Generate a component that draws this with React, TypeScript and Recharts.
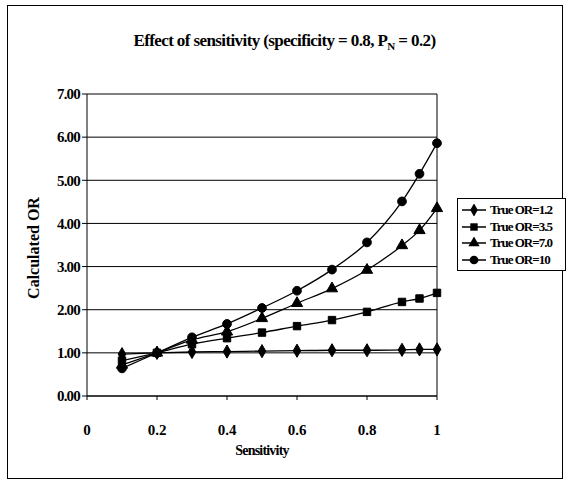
import {
  LineChart,
  Line,
  XAxis,
  YAxis,
  CartesianGrid,
  ReferenceLine,
  Symbols,
} from 'recharts';

const sensitivity = [0.1, 0.2, 0.3, 0.4, 0.5, 0.6, 0.7, 0.8, 0.9, 0.95, 1.0];
const or12 = [0.97, 1.0, 1.02, 1.03, 1.04, 1.05, 1.06, 1.06, 1.07, 1.08, 1.08];
const or35 = [0.82, 1.0, 1.2, 1.34, 1.47, 1.62, 1.76, 1.95, 2.18, 2.26, 2.39];
const or70 = [0.72, 1.0, 1.3, 1.49, 1.8, 2.15, 2.49, 2.92, 3.49, 3.84, 4.35];
const or10 = [0.64, 1.0, 1.36, 1.67, 2.04, 2.44, 2.93, 3.56, 4.51, 5.15, 5.86];
const xTicks = [0, 0.2, 0.4, 0.6, 0.8, 1];
const yTicks = [0, 1, 2, 3, 4, 5, 6, 7];

const data = sensitivity.map((s, i) => ({
  s,
  or12: or12[i],
  or35: or35[i],
  or70: or70[i],
  or10: or10[i],
}));

const series = [
  { key: 'or12', name: 'True OR=1.2', shape: 'diamond', size: 50 },
  { key: 'or35', name: 'True OR=3.5', shape: 'square', size: 55 },
  { key: 'or70', name: 'True OR=7.0', shape: 'triangle', size: 55 },
  { key: 'or10', name: 'True OR=10', shape: 'circle', size: 60 },
];

const font = '"Liberation Serif", "Times New Roman", serif';

const makeDot = (shape: string, size: number) => (props: any) => {
  const { cx, cy, index } = props;
  return (
    <Symbols key={`${shape}-${index}`} cx={cx} cy={cy} type={shape as any} size={size} fill="#000" stroke="#000" />
  );
};

export default function App() {
  return (
    <div style={{ position: 'absolute', left: 0, top: 0, width: 569, height: 483, background: '#fff', fontFamily: font }}>
      <div style={{ position: 'absolute', left: 7, top: 5, width: 554, height: 472, border: '1.5px solid #000' }} />
      <div style={{ position: 'absolute', left: 0, top: 31, width: 569, textAlign: 'center', fontWeight: 'bold', fontSize: 17, letterSpacing: -0.6 }}>
        Effect of sensitivity (specificity = 0.8, P<sub style={{ fontSize: 11 }}>N</sub> = 0.2)
      </div>
      <div
        style={{
          position: 'absolute',
          left: 34,
          top: 248,
          transform: 'translate(-50%, -50%) rotate(-90deg)',
          fontWeight: 'bold',
          fontSize: 16,
          whiteSpace: 'nowrap',
        }}
      >
        Calculated OR
      </div>
      <div style={{ position: 'absolute', left: 212, top: 443, width: 100, textAlign: 'center', fontWeight: 'bold', fontSize: 14, letterSpacing: -0.8 }}>
        Sensitivity
      </div>
      <LineChart width={569} height={483} data={data} margin={{ top: 94, right: 132, bottom: 57, left: 37 }}>
        <CartesianGrid horizontal vertical={false} stroke="#000" strokeWidth={1} />
        <XAxis
          dataKey="s"
          type="number"
          domain={[0, 1]}
          ticks={xTicks}
          tickFormatter={(v: number) => String(v)}
          height={30}
          stroke="#000"
          tickSize={4}
          tick={{ fill: '#000', fontSize: 15, fontWeight: 'bold', fontFamily: font, dy: 22 }}
        />
        <YAxis
          type="number"
          domain={[0, 7]}
          ticks={yTicks}
          tickFormatter={(v: number) => v.toFixed(2)}
          width={50}
          stroke="#000"
          tickSize={5}
          tick={{ fill: '#000', fontSize: 15, fontWeight: 'bold', fontFamily: font, letterSpacing: -0.8 }}
        />
        <ReferenceLine x={1} stroke="#000" />
        {series.map((sr) => (
          <Line
            key={sr.key}
            dataKey={sr.key}
            name={sr.name}
            type="monotone"
            stroke="#000"
            strokeWidth={1.3}
            dot={makeDot(sr.shape, sr.size)}
            isAnimationActive={false}
          />
        ))}
      </LineChart>
      <div
        style={{
          position: 'absolute',
          left: 457,
          top: 198,
          width: 109,
          height: 73,
          border: '1.5px solid #000',
          boxSizing: 'border-box',
          background: '#fff',
          padding: '3px 0 0 3px',
        }}
      >
        {series.map((sr) => (
          <div key={sr.key} style={{ display: 'flex', alignItems: 'center', height: 16.5, fontSize: 13, fontWeight: 'bold', letterSpacing: -1, whiteSpace: 'nowrap' }}>
            <svg width={26} height={12} style={{ marginRight: 3 }}>
              <line x1={1} y1={6} x2={25} y2={6} stroke="#000" strokeWidth={1.5} />
              <Symbols cx={13} cy={6} type={sr.shape as any} size={sr.size} fill="#000" />
            </svg>
            {sr.name}
          </div>
        ))}
      </div>
    </div>
  );
}
